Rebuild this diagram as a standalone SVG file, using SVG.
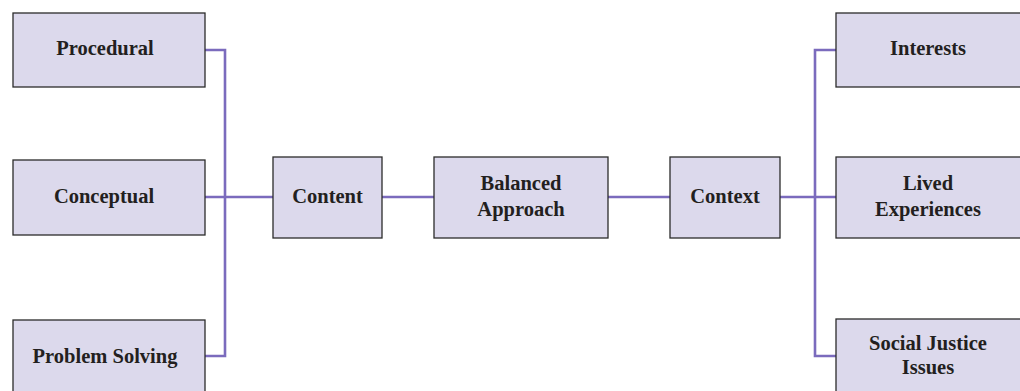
<svg xmlns="http://www.w3.org/2000/svg" width="1020" height="391" viewBox="0 0 1020 391">
<style>
.box{fill:#dcd9ec;stroke:#2b2b2b;stroke-width:1.3}
.lbl{font-family:"Liberation Serif",serif;font-weight:bold;font-size:20.5px;fill:#231f20;text-anchor:middle}
.con{fill:none;stroke:#7b6bbd;stroke-width:2.6}
</style>
<rect width="1020" height="391" fill="#fff"/>
<g id="connectors">
<polyline class="con" points="205,50 225,50 225,356 205,356"/>
<line class="con" x1="205" y1="197" x2="273" y2="197"/>
<line class="con" x1="382" y1="197" x2="434" y2="197"/>
<line class="con" x1="608" y1="197" x2="670" y2="197"/>
<line class="con" x1="780" y1="197" x2="837" y2="197"/>
<polyline class="con" points="837,50 815,50 815,356 837,356"/>
</g>
<g id="procedural"><rect class="box" x="13" y="13" width="192" height="74"/><text class="lbl" x="105" y="55">Procedural</text></g>
<g id="conceptual"><rect class="box" x="13" y="160" width="192" height="75"/><text class="lbl" x="104" y="203">Conceptual</text></g>
<g id="problem-solving"><rect class="box" x="13" y="320" width="192" height="80"/><text class="lbl" x="105" y="363">Problem Solving</text></g>
<g id="content"><rect class="box" x="273" y="157" width="109" height="81"/><text class="lbl" x="327.5" y="203">Content</text></g>
<g id="balanced-approach"><rect class="box" x="434" y="157" width="174" height="81"/><text class="lbl" x="521" y="190">Balanced</text><text class="lbl" x="521" y="216">Approach</text></g>
<g id="context"><rect class="box" x="670" y="157" width="110" height="81"/><text class="lbl" x="725" y="203">Context</text></g>
<g id="interests"><rect class="box" x="836" y="13" width="192" height="74"/><text class="lbl" x="928" y="55">Interests</text></g>
<g id="lived-experiences"><rect class="box" x="836" y="157" width="192" height="81"/><text class="lbl" x="928" y="190">Lived</text><text class="lbl" x="928" y="216">Experiences</text></g>
<g id="social-justice"><rect class="box" x="836" y="319" width="192" height="80"/><text class="lbl" x="928" y="350">Social Justice</text><text class="lbl" x="928" y="374">Issues</text></g>
</svg>
